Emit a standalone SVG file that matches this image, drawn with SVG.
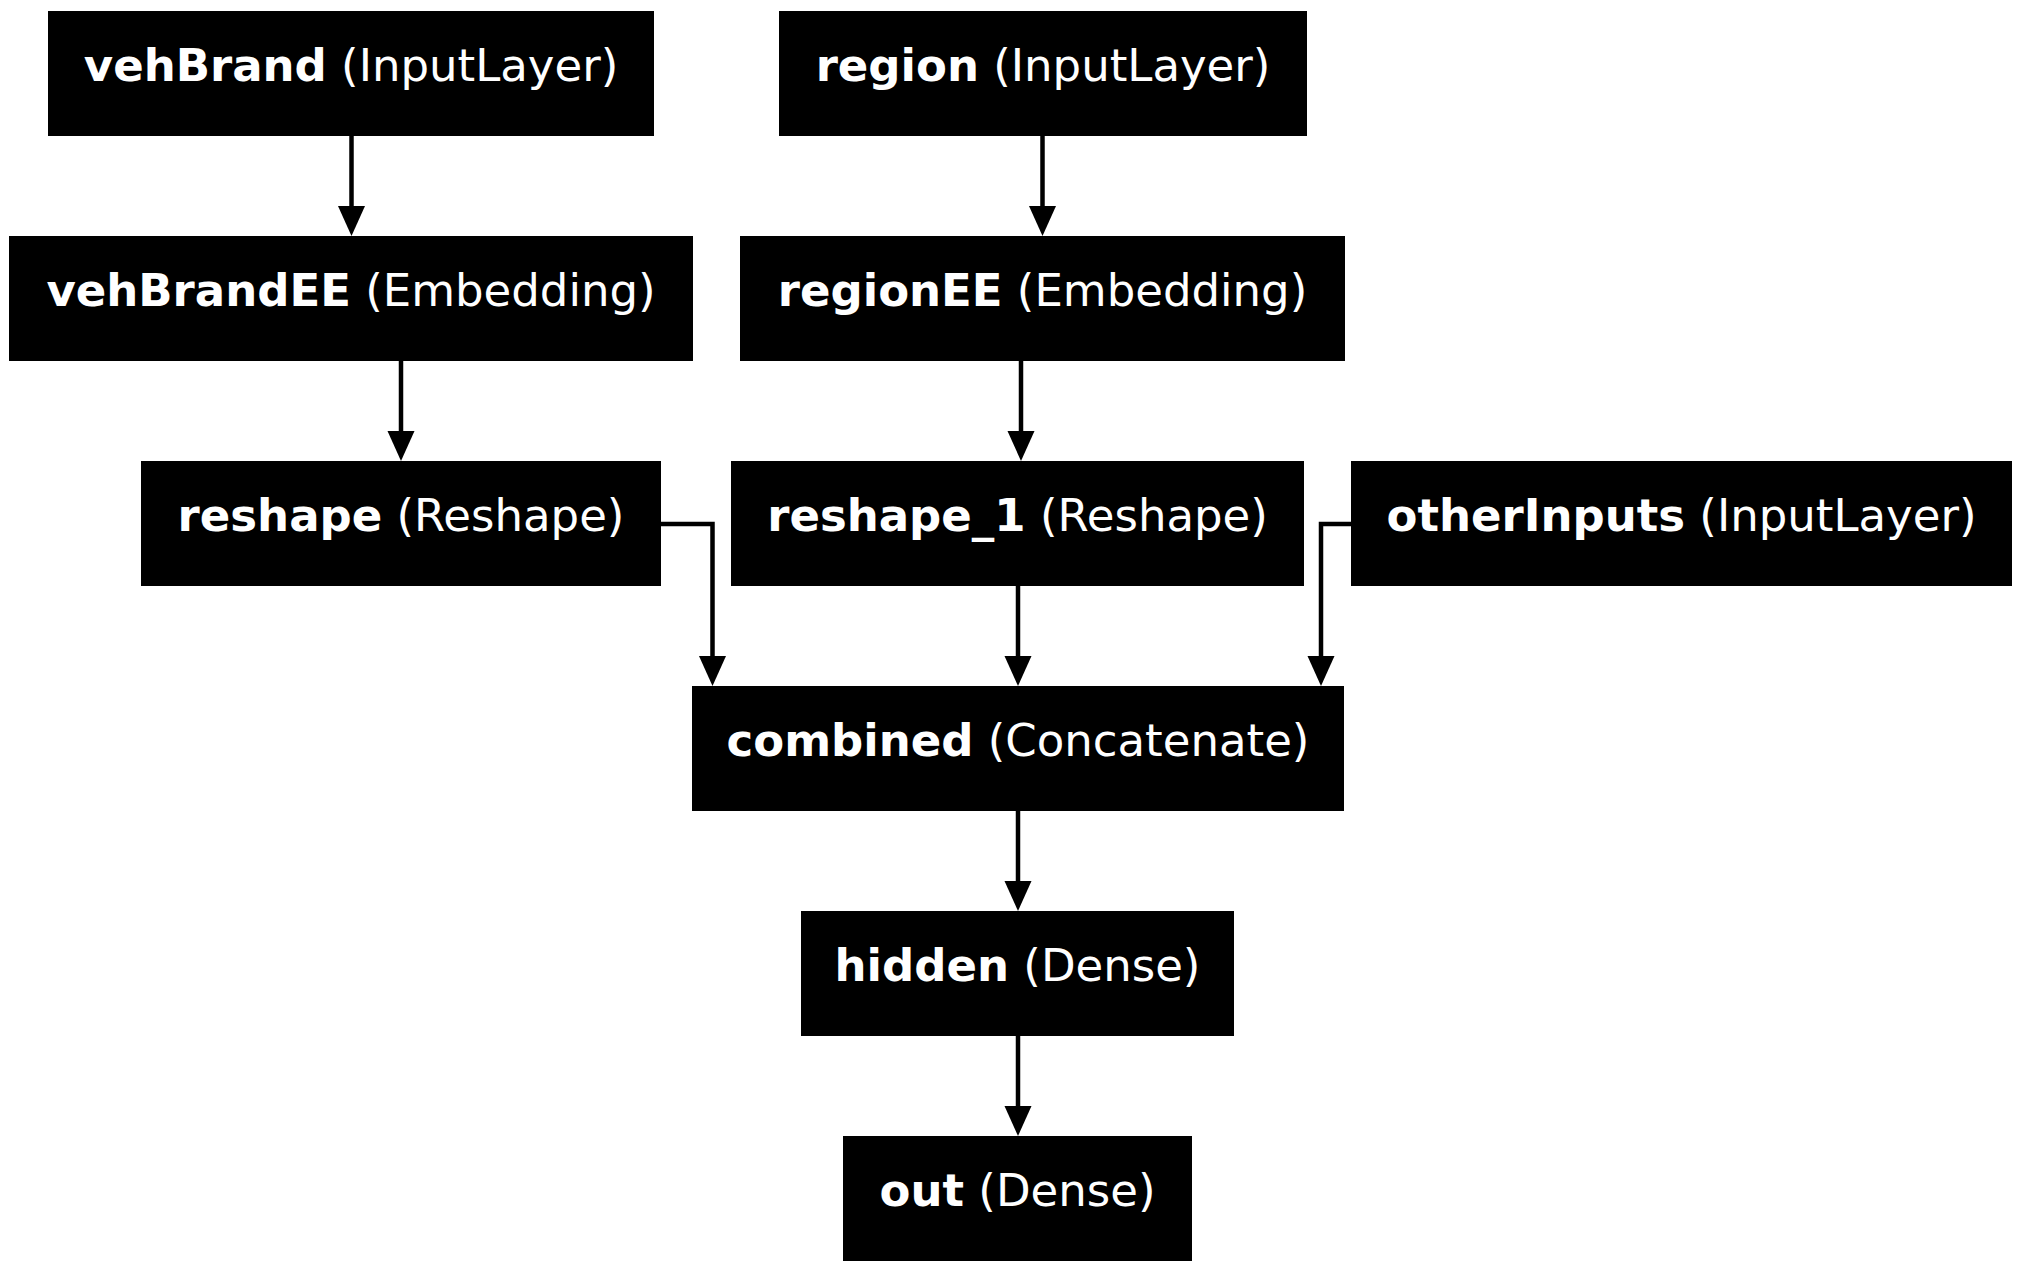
<svg xmlns="http://www.w3.org/2000/svg" width="2022" height="1272" viewBox="0 0 2022 1272">
<defs>
<style>
.box{fill:#000;stroke:none}
.lbl{font-family:"DejaVu Sans",sans-serif;font-size:45px;fill:#fff;text-anchor:middle}
.b{font-weight:bold}
.edge{fill:none;stroke:#000;stroke-width:4.5}
.head{fill:#000;stroke:none}
</style>
</defs>
<rect width="2022" height="1272" fill="#fff"/>
<g id="connectors">
<path class="edge" d="M351.5 136V208"/><polygon class="head" points="338,206 365,206 351.5,236"/>
<path class="edge" d="M1042.5 136V208"/><polygon class="head" points="1029,206 1056,206 1042.5,236"/>
<path class="edge" d="M401 361V433"/><polygon class="head" points="387.5,431 414.5,431 401,461"/>
<path class="edge" d="M1021 361V433"/><polygon class="head" points="1007.5,431 1034.5,431 1021,461"/>
<path class="edge" d="M661 524H712.5V658"/><polygon class="head" points="699,656 726,656 712.5,686"/>
<path class="edge" d="M1018 586V658"/><polygon class="head" points="1004.5,656 1031.5,656 1018,686"/>
<path class="edge" d="M1351 524H1321V658"/><polygon class="head" points="1307.5,656 1334.5,656 1321,686"/>
<path class="edge" d="M1018 811V883"/><polygon class="head" points="1004.5,881 1031.5,881 1018,911"/>
<path class="edge" d="M1018 1036V1108"/><polygon class="head" points="1004.5,1106 1031.5,1106 1018,1136"/>
</g>
<g id="vehBrand"><rect class="box" x="48" y="11" width="606" height="125"/><text class="lbl" x="351" y="81"><tspan class="b">vehBrand</tspan> (InputLayer)</text></g>
<g id="region"><rect class="box" x="779" y="11" width="528" height="125"/><text class="lbl" x="1043" y="81"><tspan class="b">region</tspan> (InputLayer)</text></g>
<g id="vehBrandEE"><rect class="box" x="9" y="236" width="684" height="125"/><text class="lbl" x="351" y="306"><tspan class="b">vehBrandEE</tspan> (Embedding)</text></g>
<g id="regionEE"><rect class="box" x="740" y="236" width="605" height="125"/><text class="lbl" x="1042.5" y="306"><tspan class="b">regionEE</tspan> (Embedding)</text></g>
<g id="reshape"><rect class="box" x="141" y="461" width="520" height="125"/><text class="lbl" x="401" y="531"><tspan class="b">reshape</tspan> (Reshape)</text></g>
<g id="reshape_1"><rect class="box" x="731" y="461" width="573" height="125"/><text class="lbl" x="1017.5" y="531"><tspan class="b">reshape_1</tspan> (Reshape)</text></g>
<g id="otherInputs"><rect class="box" x="1351" y="461" width="661" height="125"/><text class="lbl" x="1681.5" y="531"><tspan class="b">otherInputs</tspan> (InputLayer)</text></g>
<g id="combined"><rect class="box" x="692" y="686" width="652" height="125"/><text class="lbl" x="1018" y="756"><tspan class="b">combined</tspan> (Concatenate)</text></g>
<g id="hidden"><rect class="box" x="801" y="911" width="433" height="125"/><text class="lbl" x="1017.5" y="981"><tspan class="b">hidden</tspan> (Dense)</text></g>
<g id="out"><rect class="box" x="843" y="1136" width="349" height="125"/><text class="lbl" x="1017.5" y="1206"><tspan class="b">out</tspan> (Dense)</text></g>
</svg>
